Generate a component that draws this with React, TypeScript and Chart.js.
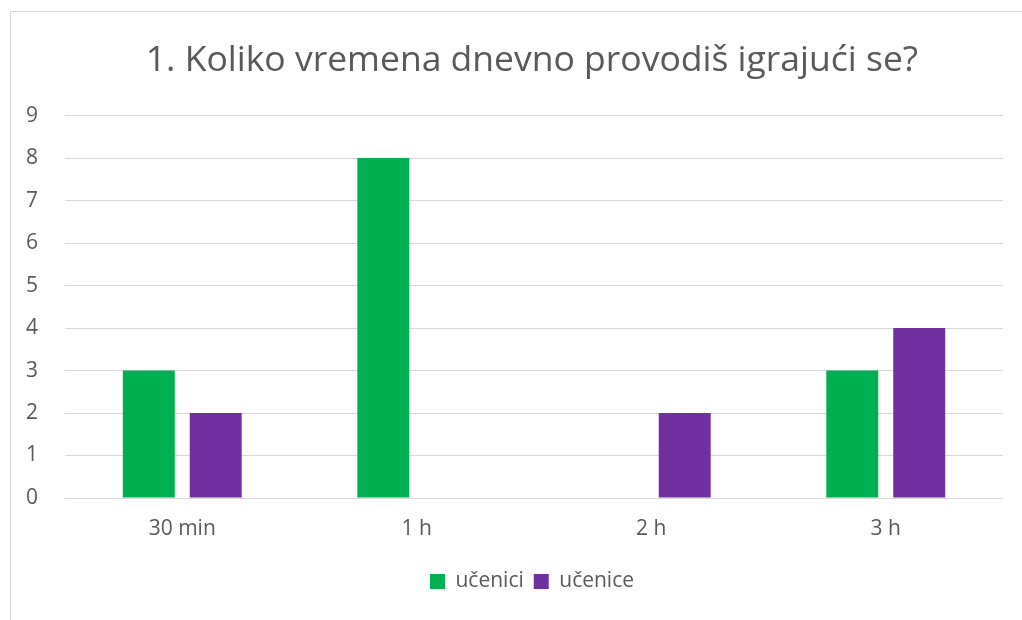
import React, { useEffect, useRef } from "react";
import { Chart, registerables } from "chart.js";

Chart.register(...registerables);

const categories = ["30 min", "1 h", "2 h", "3 h"];
const boysLabel = "učenici";
const girlsLabel = "učenice";
const boysValues = [3, 8, 0, 3];
const girlsValues = [2, 0, 2, 4];
const titleText = "1. Koliko vremena dnevno provodiš igrajući se?";

const GREEN = "#00b050";
const PURPLE = "#7030a0";
const TEXT = "#595959";
const GRID = "#d9d9d9";
const FONT = "'Open Sans', 'DejaVu Sans', sans-serif";
const CANVAS_W = 1064;

export default function App() {
  const ref = useRef<HTMLCanvasElement | null>(null);

  useEffect(() => {
    if (!ref.current) return;
    const chart = new Chart(ref.current, {
      type: "bar",
      data: {
        labels: categories,
        datasets: [
          {
            label: boysLabel,
            data: boysValues,
            backgroundColor: GREEN,
            borderWidth: 0,
            categoryPercentage: 0.571,
            barPercentage: 0.776,
          },
          {
            label: girlsLabel,
            data: girlsValues,
            backgroundColor: PURPLE,
            borderWidth: 0,
            categoryPercentage: 0.571,
            barPercentage: 0.776,
          },
        ],
      },
      options: {
        animation: false,
        responsive: false,
        maintainAspectRatio: false,
        layout: { padding: { left: 0, right: 0, top: 0, bottom: 18 } },
        plugins: {
          tooltip: { enabled: false },
          title: {
            display: true,
            text: titleText,
            color: TEXT,
            font: { family: FONT, size: 35.5, weight: "normal" },
            padding: { top: 40, bottom: 33 },
          },
          legend: {
            display: true,
            position: "bottom",
            labels: {
              color: TEXT,
              font: { family: FONT, size: 21 },
              boxWidth: 15,
              boxHeight: 15,
              padding: 10,
            },
          },
        },
        scales: {
          x: {
            grid: { display: false },
            border: { display: false },
            ticks: {
              color: TEXT,
              font: { family: FONT, size: 21 },
              padding: 10,
            },
            afterFit: (scale: any) => {
              scale.height = 63;
            },
          },
          y: {
            min: 0,
            max: 9,
            grid: { color: GRID, lineWidth: 1, drawTicks: false },
            border: { display: false },
            ticks: {
              stepSize: 1,
              color: TEXT,
              font: { family: FONT, size: 21 },
              padding: 27,
            },
            afterFit: (scale: any) => {
              scale.width = 65;
            },
          },
          yRight: {
            position: "right",
            display: true,
            grid: { display: false, drawTicks: false },
            border: { display: false },
            ticks: { display: false },
            afterFit: (scale: any) => {
              scale.width = CANVAS_W - 1003;
            },
          },
        },
      },
    });
    return () => chart.destroy();
  }, []);

  return (
    <div
      style={{
        position: "absolute",
        left: 0,
        top: 0,
        width: 1022,
        height: 620,
        background: "#ffffff",
        overflow: "hidden",
      }}
    >
      <div
        style={{
          position: "absolute",
          left: 10,
          top: 11,
          width: 1030,
          height: 630,
          borderLeft: `1px solid ${GRID}`,
          borderTop: `1px solid ${GRID}`,
        }}
      />
      <canvas
        ref={ref}
        width={CANVAS_W}
        height={620}
        style={{ position: "absolute", left: 0, top: 0 }}
      />
    </div>
  );
}
